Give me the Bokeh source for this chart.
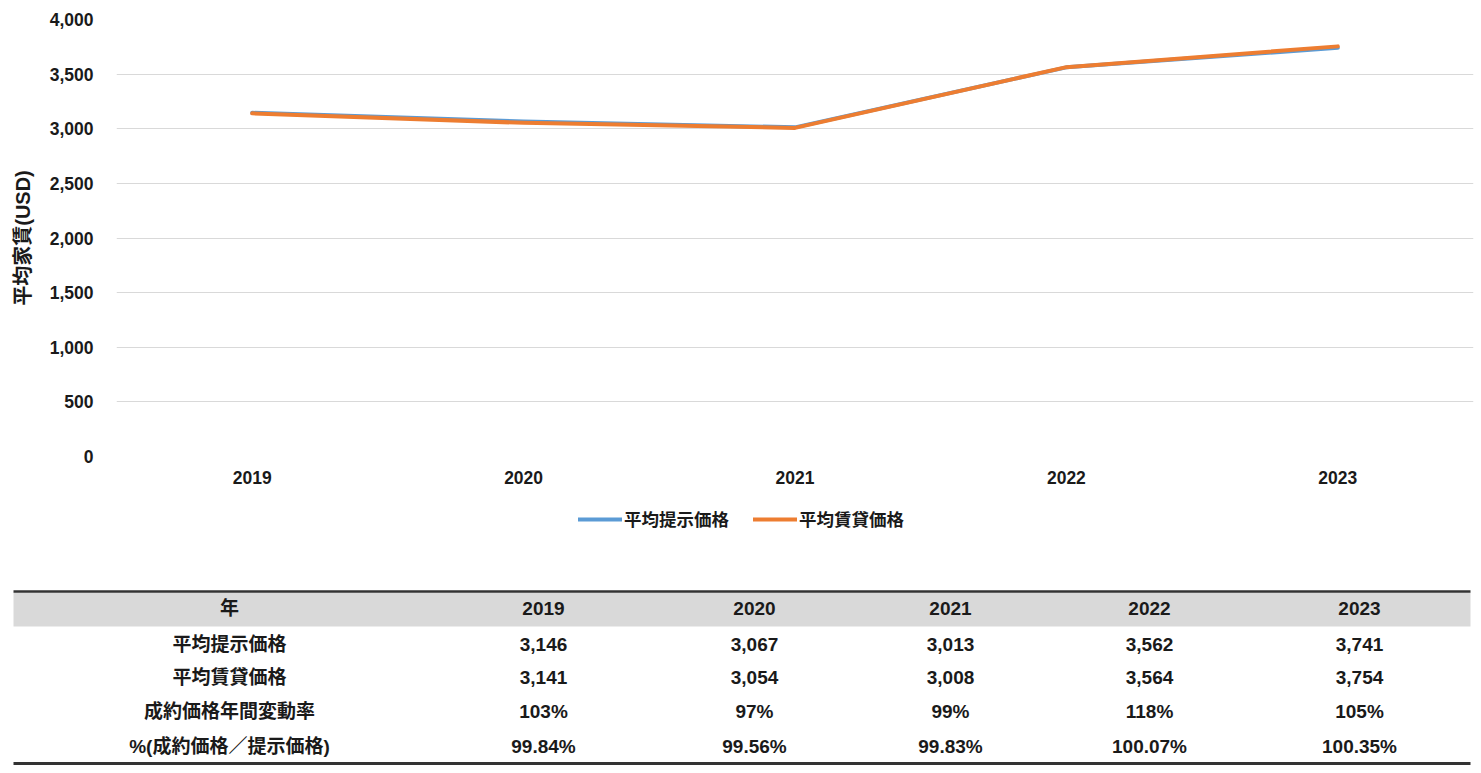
from bokeh.plotting import figure
from bokeh.models import (FactorRange, Range1d, Legend, LegendItem,
                          NumeralTickFormatter, ColumnDataSource, SingleIntervalTicker)
from bokeh.core.properties import value
from bokeh.embed import file_html
from bokeh.resources import INLINE

# ---------------- data ----------------
years = ["2019", "2020", "2021", "2022", "2023"]
offered = [3146, 3067, 3013, 3562, 3741]      # 平均提示価格
rent = [3141, 3054, 3008, 3564, 3754]         # 平均賃貸価格
yoy_pct = [103, 97, 99, 118, 105]             # 成約価格年間変動率
ratio_pct = [99.84, 99.56, 99.83, 100.07, 100.35]  # %(成約価格／提示価格)

series_names = ["平均提示価格", "平均賃貸価格"]
row_labels = ["平均提示価格", "平均賃貸価格", "成約価格年間変動率", "%(成約価格／提示価格)"]
header_label = "年"
y_label = "平均家賃(USD)"

# ---------------- styles ----------------
FONT = "Liberation Sans, Noto Sans CJK JP"
TXT = "#1a1a1a"
BLUE = "#5B9BD5"
ORANGE = "#ED7D31"
GRID = "#d9d9d9"

# ---------------- chart ----------------
p = figure(width=1481, height=500, x_range=FactorRange(*years, range_padding=0),
           y_range=Range1d(0, 4000), output_backend="svg", toolbar_location=None,
           min_border_left=116, min_border_right=8, min_border_top=19,
           min_border_bottom=44)
p.outline_line_color = None
p.background_fill_color = "white"
p.border_fill_color = "white"

r1 = p.line(years, offered, line_color=BLUE, line_width=4, line_cap="round", line_join="round")
r2 = p.line(years, rent, line_color=ORANGE, line_width=4, line_cap="round", line_join="round")

p.xgrid.grid_line_color = None
p.ygrid.grid_line_color = GRID
p.ygrid.grid_line_width = 1
p.yaxis.ticker = SingleIntervalTicker(interval=500)
p.yaxis.formatter = NumeralTickFormatter(format="0,0")

for ax in (p.xaxis[0], p.yaxis[0]):
    ax.axis_line_color = None
    ax.major_tick_line_color = None
    ax.minor_tick_line_color = None
    ax.major_tick_out = 0
    ax.major_tick_in = 0
    ax.minor_tick_out = 0
    ax.major_label_text_font = FONT
    ax.major_label_text_font_style = "bold"
    ax.major_label_text_color = TXT
    ax.major_label_text_font_size = "17.5px"

p.yaxis.major_label_standoff = 23
p.xaxis.major_label_standoff = 14
p.yaxis.axis_label = y_label
p.yaxis.axis_label_text_font = FONT
p.yaxis.axis_label_text_font_style = "bold"
p.yaxis.axis_label_text_font_size = "20px"
p.yaxis.axis_label_text_color = TXT
p.yaxis.axis_label_standoff = 13

# ---------------- legend + table ----------------
t = figure(width=1481, height=273, x_range=Range1d(0, 1481), y_range=Range1d(773, 500),
           output_backend="svg", toolbar_location=None,
           min_border_left=0, min_border_right=0, min_border_top=0, min_border_bottom=0)
t.axis.visible = False
t.grid.visible = False
t.outline_line_color = None
t.background_fill_color = "white"
t.border_fill_color = "white"

# legend swatches mirror the chart's two series (their own lines sit outside this view)
l1 = t.line([0, 1], [-50, -50], line_color=BLUE, line_width=4, line_cap="round")
l2 = t.line([0, 1], [-50, -50], line_color=ORANGE, line_width=4, line_cap="round")
legend = Legend(items=[LegendItem(label=series_names[0], renderers=[l1]),
                       LegendItem(label=series_names[1], renderers=[l2])],
                location=(578, 242), orientation="horizontal",
                padding=0, margin=0, spacing=24, glyph_width=44, glyph_height=20,
                label_height=20, label_standoff=2,
                label_text_font=FONT, label_text_font_style="bold",
                label_text_font_size="17.5px", label_text_color=TXT,
                border_line_color=None, background_fill_alpha=0)
t.add_layout(legend, "center")

TL, TR = 13, 1470
label_x = 229
col_x = [543, 754, 950, 1149, 1359]
row_y = [608, 644, 677, 711, 746]

t.quad(left=[TL], right=[TR], top=[592], bottom=[626], fill_color=GRID, line_color=None)
t.segment(x0=[TL], x1=[TR], y0=[591], y1=[591], line_color="#333333", line_width=2.5)
t.segment(x0=[TL], x1=[TR], y0=[763], y1=[763], line_color="#333333", line_width=3)

cells_x, cells_y, cells_t = [], [], []
table_rows = [
    [header_label] + years,
    [row_labels[0]] + [f"{v:,}" for v in offered],
    [row_labels[1]] + [f"{v:,}" for v in rent],
    [row_labels[2]] + [f"{v}%" for v in yoy_pct],
    [row_labels[3]] + [f"{v:.2f}%" for v in ratio_pct],
]
xs = [label_x] + col_x
for ri, row in enumerate(table_rows):
    for ci, txt in enumerate(row):
        cells_x.append(xs[ci])
        cells_y.append(row_y[ri])
        cells_t.append(txt)

src = ColumnDataSource(dict(x=cells_x, y=cells_y, text=cells_t))
t.text(x="x", y="y", text="text", source=src, text_align="center", text_baseline="middle",
       text_font=value(FONT), text_font_style="bold", text_font_size="19px", text_color=TXT)

open("out.html", "w").write(file_html([p, t], INLINE))
